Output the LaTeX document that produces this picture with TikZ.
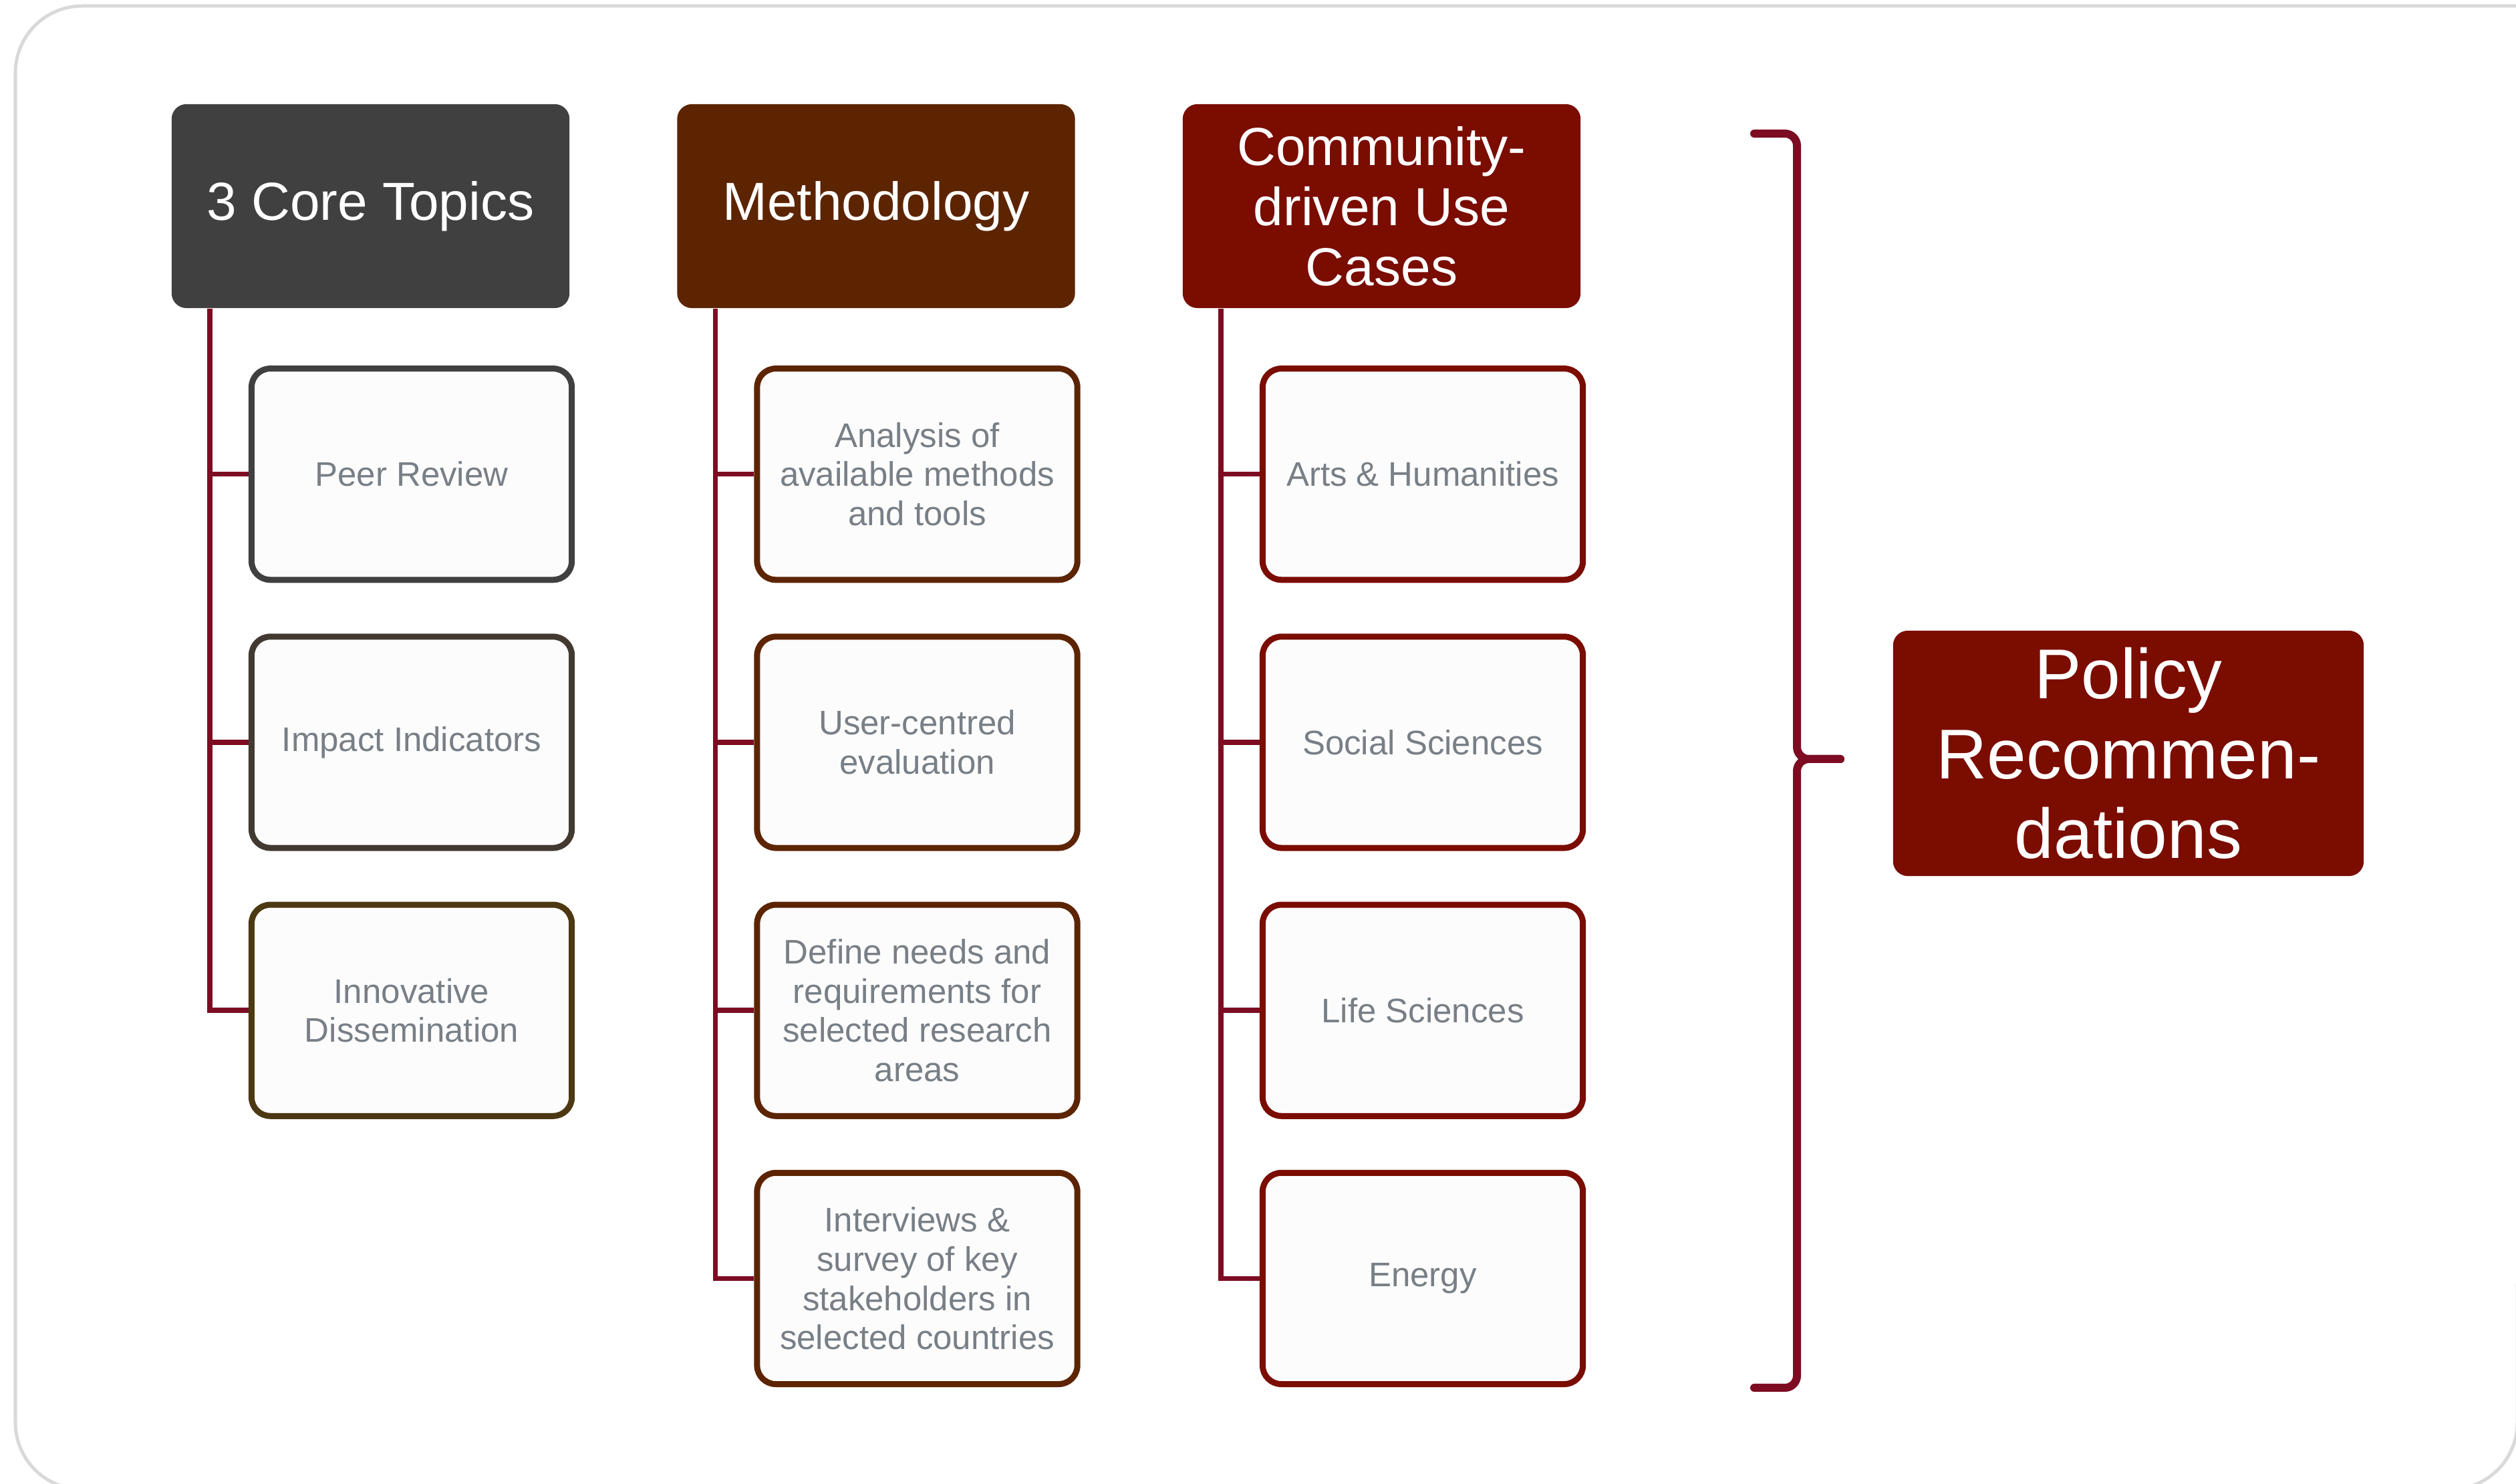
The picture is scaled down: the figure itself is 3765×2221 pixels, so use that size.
\documentclass[tikz,border=0pt]{standalone}
\usepackage{fontspec}
\setmainfont{Liberation Sans}
\usepackage{tikz}
\usetikzlibrary{trees}

\definecolor{framegray}{RGB}{217,217,217}
\definecolor{linkred}{RGB}{125,12,35}
\definecolor{corefill}{RGB}{64,64,64}
\definecolor{methfill}{RGB}{92,36,0}
\definecolor{casefill}{RGB}{122,12,0}
\definecolor{coreA}{RGB}{64,64,64}
\definecolor{coreB}{RGB}{66,58,48}
\definecolor{coreC}{RGB}{76,56,18}
\definecolor{boxfill}{RGB}{252,252,252}
\definecolor{itemtext}{RGB}{120,127,134}

\tikzset{
  head/.style={rectangle, rounded corners=0.22cm, minimum width=5.95cm, minimum height=3.05cm,
    text=white, align=center, font=\fontsize{22.8}{25.6}\selectfont},
  item/.style={rectangle, rounded corners=0.28cm, line width=0.09cm, fill=boxfill,
    minimum width=4.79cm, minimum height=3.16cm, text=itemtext, align=center,
    font=\fontsize{14.5}{16.7}\selectfont},
  brace/.style={draw=linkred, line width=0.12cm, line cap=round, rounded corners=0.18cm}
}

\begin{document}
\begin{tikzpicture}[x=0.01cm,y=0.01cm,
    grow via three points={one child at (0.615cm,-4.01cm) and two children at (0.615cm,-4.01cm) and (0.615cm,-8.02cm)},
    edge from parent/.style={draw=linkred,line width=0.075cm},
    edge from parent path={([xshift=0.58cm]\tikzparentnode.south west) |- (\tikzchildnode.west)}]
\useasboundingbox (0,0) rectangle (3765,2221);
\draw[framegray, line width=0.05cm, rounded corners=1cm] (3800,2212) -- (23,2212) -- (23,-8) -- (3767,-8) -- (3767,300);

\node[head, fill=corefill] (core) at (554.5,1912.5) {3 Core Topics}
child {node[item, draw=coreA] (peer) {Peer Review}}
child {node[item, draw=coreB] (impact) {Impact Indicators}}
child {node[item, draw=coreC] (dissem) {Innovative\\Dissemination}};

\node[head, fill=methfill] (method) at (1311,1912.5) {Methodology}
child {node[item, draw=methfill] (analysis) {Analysis of\\available methods\\and tools}}
child {node[item, draw=methfill] (usereval) {User-centred\\evaluation}}
child {node[item, draw=methfill] (needs) {Define needs and\\requirements for\\selected research\\areas}}
child {node[item, draw=methfill] (survey) {Interviews \&\\survey of key\\stakeholders in\\selected countries}};

\node[head, fill=casefill] (cases) at (2067.5,1912.5) {Community-\\driven Use\\Cases}
child {node[item, draw=casefill] (arts) {Arts \& Humanities}}
child {node[item, draw=casefill] (social) {Social Sciences}}
child {node[item, draw=casefill] (life) {Life Sciences}}
child {node[item, draw=casefill] (energy) {Energy}};

\node[head, fill=casefill, minimum width=7.04cm, minimum height=3.67cm,
  font=\fontsize{30}{34}\selectfont] (policy) at (3185,1093.5) {Policy\\Recommen-\\dations};

\coordinate (brtop) at (2625,2021);
\coordinate (brbot) at (2625,144);
\coordinate (brmid) at (2689,1085);
\coordinate (brtip) at (2754,1085);
\draw[brace] (brtop) -| (brmid) -- (brtip);
\draw[brace] (brbot) -| (brmid) -- (brtip);
\end{tikzpicture}
\end{document}
